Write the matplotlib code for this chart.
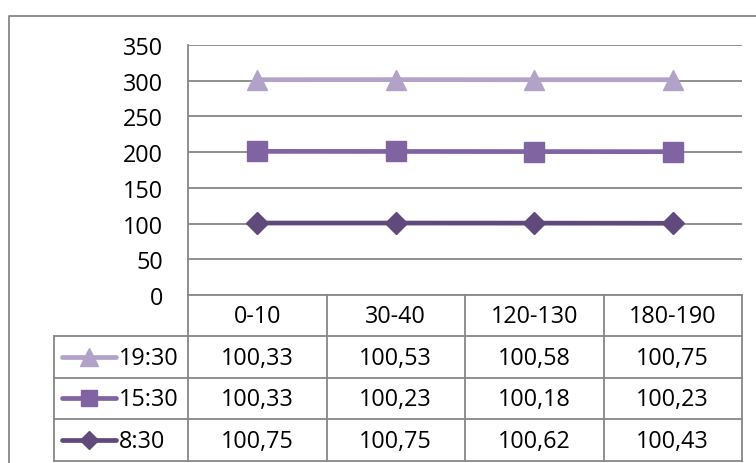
import numpy as np
import matplotlib.pyplot as plt

plt.rcParams['font.family'] = ['Open Sans', 'DejaVu Sans']

# data (stacked line chart with data table, decimal comma)
categories = ['0-10', '30-40', '120-130', '180-190']
series_names = ['19:30', '15:30', '8:30']
v_1930 = [100.33, 100.53, 100.58, 100.75]
v_1530 = [100.33, 100.23, 100.18, 100.23]
v_0830 = [100.75, 100.75, 100.62, 100.43]
yticks = [0, 50, 100, 150, 200, 250, 300, 350]

W, H = 756, 464
fig = plt.figure(figsize=(W / 100, H / 100), dpi=100)

# plot area in pixels
L, R, T, B = 188, 742, 46, 296
ax = fig.add_axes([L / W, 1 - B / H, (R - L) / W, (B - T) / H])

gray = '#878787'
fs = 16.8
x = np.arange(len(categories))
s1 = np.array(v_0830)
s2 = s1 + np.array(v_1530)
s3 = s2 + np.array(v_1930)

styles = {
    '19:30': dict(color='#B3A2C7', marker='^'),
    '15:30': dict(color='#8064A2', marker='s'),
    '8:30': dict(color='#604A7B', marker='D'),
}
msize = {'^': 15, 's': 14, 'D': 11}
msize_leg = {'^': 12.5, 's': 12, 'D': 9.5}

for name, ys in zip(series_names, [s3, s2, s1]):
    st = styles[name]
    ax.plot(x, ys, color=st['color'], lw=3.4, marker=st['marker'],
            ms=msize[st['marker']], mec=st['color'], zorder=3, clip_on=False)

ax.set_xlim(-0.5, len(categories) - 0.5)
ax.set_ylim(0, 350)
ax.set_yticks(yticks)
ax.set_xticks([])
ax.grid(axis='y', color=gray, lw=1.3)
ax.set_axisbelow(True)
for sp in ['right', 'top']:
    ax.spines[sp].set_visible(False)
for sp in ['left', 'bottom']:
    ax.spines[sp].set_color(gray)
    ax.spines[sp].set_linewidth(1.3)
ax.tick_params(axis='y', length=0, pad=18, labelsize=fs)

# overlay for the data table and chart border
tax = fig.add_axes([0, 0, 1, 1])
tax.set_xlim(0, W)
tax.set_ylim(H, 0)
tax.axis('off')

lkw = dict(color=gray, lw=1.3)
tax.plot([9, 9, W], [H, 17, 17], **lkw)

ncol = len(categories)
col_edges = [L + (R - L) * i / ncol for i in range(ncol + 1)]
LEG_L = 54
row_edges = [296, 337, 378.5, 420, 461.5]

for y in row_edges[1:]:
    tax.plot([LEG_L, R], [y, y], **lkw)
for xe in col_edges:
    tax.plot([xe, xe], [row_edges[0], row_edges[-1]], **lkw)
tax.plot([LEG_L, LEG_L], [row_edges[1], row_edges[-1]], **lkw)

# header row
for i, c in enumerate(categories):
    xc = (col_edges[i] + col_edges[i + 1]) / 2
    tax.text(xc, (row_edges[0] + row_edges[1]) / 2 + 1, c, ha='center', va='center', fontsize=fs)

# data rows with legend keys
for r, (name, vals) in enumerate(zip(series_names, [v_1930, v_1530, v_0830])):
    yc = (row_edges[r + 1] + row_edges[r + 2]) / 2
    st = styles[name]
    tax.plot([62, 116], [yc, yc], color=st['color'], lw=3.4, solid_capstyle='round')
    tax.plot([89], [yc], color=st['color'], marker=st['marker'], ms=msize_leg[st['marker']], mec=st['color'])
    tax.text(119, yc + 1, name, ha='left', va='center', fontsize=fs)
    for i, v in enumerate(vals):
        xc = (col_edges[i] + col_edges[i + 1]) / 2
        tax.text(xc, yc + 1, f'{v:.2f}'.replace('.', ','), ha='center', va='center', fontsize=fs)

fig.savefig('out.png', dpi=100)
